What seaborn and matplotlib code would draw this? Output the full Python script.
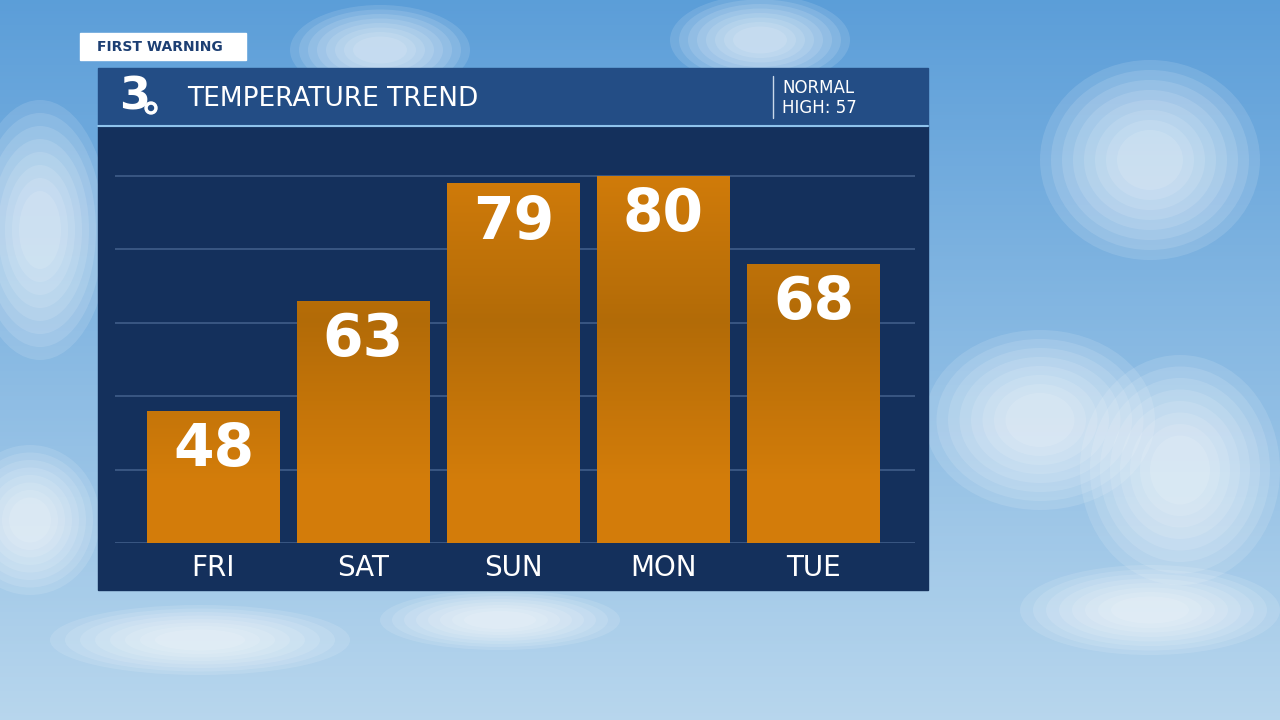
import numpy as np
import matplotlib
matplotlib.use("Agg")
import matplotlib.pyplot as plt
import seaborn as sns
from matplotlib.patches import Rectangle, Ellipse, Circle

days = ["FRI", "SAT", "SUN", "MON", "TUE"]
temps = [48, 63, 79, 80, 68]
grid_vals = [30, 40, 50, 60, 70, 80]
normal_high = 57

sns.set_style("white")
plt.rcParams['font.family'] = ['DejaVu Sans']

W, H = 1280, 720
fig = plt.figure(figsize=(12.8, 7.2), dpi=100)

# background sky
bg = fig.add_axes([0, 0, 1, 1])
bg.set_xlim(0, W); bg.set_ylim(H, 0); bg.axis("off")
yy = np.linspace(0, 1, 200)[:, None]
top = np.array([0.36, 0.62, 0.85]); bot = np.array([0.72, 0.84, 0.93])
grad = top + (bot - top) * yy[..., None]
grad = np.repeat(grad, 2, axis=1)
bg.imshow(grad, extent=[0, W, H, 0], aspect="auto", zorder=0)
clouds = [(1150, 160, 220, 200), (1180, 470, 200, 230), (1040, 420, 230, 180),
          (40, 230, 140, 260), (30, 520, 140, 150), (760, 40, 180, 90),
          (380, 50, 180, 90), (500, 620, 240, 60), (1150, 610, 260, 90), (200, 640, 300, 70)]
for cx, cy, w, h in clouds:
    for s in np.linspace(1.0, 0.3, 8):
        bg.add_patch(Ellipse((cx, cy), w * s, h * s, color="white", alpha=0.12, lw=0, zorder=1))

# panel
bg.add_patch(Rectangle((98, 126), 830, 464, color="#14305c", zorder=2))
bg.add_patch(Rectangle((98, 68), 830, 58, color="#234d85", zorder=2))
bg.plot([98, 928], [126, 126], color="#8fc3ec", lw=1.5, zorder=3)
bg.plot([773, 773], [76, 118], color="#c8d8ea", lw=1, zorder=3)
bg.text(187, 99, "TEMPERATURE TREND", color="white", fontsize=19, va="center", zorder=4)
bg.text(782, 98, f"NORMAL\nHIGH: {normal_high}", color="white", fontsize=12, va="center",
        linespacing=1.15, zorder=4)
bg.text(135, 97, "3", color="white", fontsize=32, fontweight="bold", va="center", ha="center", zorder=4)
bg.add_patch(Circle((151, 108), 6, color="white", zorder=5))
bg.add_patch(Circle((151, 108), 2.5, color="#234d85", zorder=6))
bg.add_patch(Rectangle((80, 33), 166, 27, color="white", zorder=4))
bg.text(160, 47, "FIRST WARNING", color="#1d3f73", fontsize=10, fontweight="bold",
        va="center", ha="center", zorder=5)

# chart axes
left, right, bottom_px, top_px = 115, 915, 543, 130
ax = fig.add_axes([left / W, 1 - bottom_px / H, (right - left) / W, (bottom_px - top_px) / H])
ax.patch.set_alpha(0)
ppu = 150
ymin = 30
ax.set_ylim(ymin, ymin + (bottom_px - top_px) / 7.34)
for g in grid_vals:
    ax.axhline(g, color="#3c5a86", lw=1.3, zorder=0)
sns.barplot(x=list(range(5)), y=temps, ax=ax, color="#d27d0b", width=133 / 150,
            native_scale=True, saturation=1, zorder=2, linewidth=0, edgecolor="none")
# gradient overlay
gcol = np.array([0.83, 0.49, 0.04]); dark = np.array([0.70, 0.42, 0.03])
t = np.linspace(0, 1, 300)[:, None]
shade = np.clip(1 - np.abs(t - 0.45) / 0.4, 0, 1)
img = gcol + (dark - gcol) * shade[..., None]
img = np.repeat(img, 2, axis=1)
for p, v in zip(ax.patches, temps):
    x0 = p.get_x(); w = p.get_width()
    im = ax.imshow(img, extent=[x0, x0 + w, 30, 85], aspect="auto", zorder=3)
    im.set_clip_path(p)
    ax.text(x0 + w / 2, v - 1.4, str(v), color="white", fontsize=42, fontweight="bold",
            ha="center", va="top", zorder=5)
ax.set_xticks(range(5))
ax.set_xticklabels(days, color="white", fontsize=20)
ax.tick_params(axis="x", length=0, pad=8)
ax.set_yticks([])
ax.set_xlabel(""); ax.set_ylabel("")
sns.despine(ax=ax, left=True, bottom=True)
ax.set_xlim(-(213.5 - left) / ppu, (right - 213.5) / ppu)

fig.savefig("out.png", dpi=100)
